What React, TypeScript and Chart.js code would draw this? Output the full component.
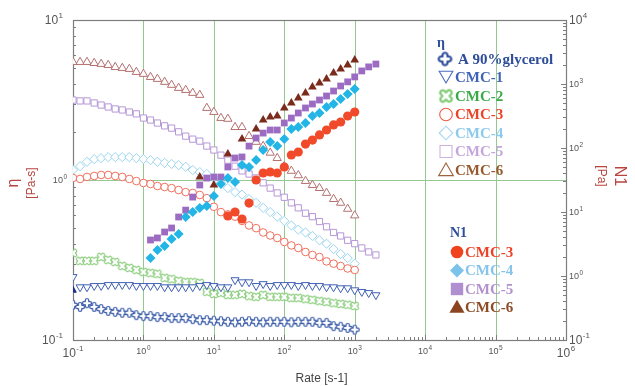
import React, { useEffect, useRef } from "react";
import { Chart, registerables } from "chart.js";

Chart.register(...registerables);

// Shear rate grid, 10 points per decade [s-1]
const rate = [
  0.1, 0.126, 0.158, 0.2, 0.251, 0.316, 0.398, 0.501, 0.631, 0.794,
  1, 1.26, 1.58, 2, 2.51, 3.16, 3.98, 5.01, 6.31, 7.94,
  10, 12.6, 15.8, 20, 25.1, 31.6, 39.8, 50.1, 63.1, 79.4,
  100, 126, 158, 200, 251, 316, 398, 501, 631, 794,
  1000, 1260, 1580, 2000,
];

// Viscosity eta [Pa-s]
const etaGlycerol = [
  0.166, 0.161, 0.17, 0.161, 0.156, 0.152, 0.15, 0.148, 0.148, 0.143,
  0.141, 0.141, 0.139, 0.139, 0.137, 0.137, 0.137, 0.135, 0.133, 0.133,
  0.132, 0.131, 0.13, 0.129, 0.13, 0.131, 0.13, 0.129, 0.13, 0.13,
  0.13, 0.129, 0.13, 0.13, 0.13, 0.128, 0.128, 0.122, 0.121, 0.119,
  0.116,
];
const etaCmc1 = [
  0.248, 0.214, 0.214, 0.218, 0.218, 0.221, 0.221, 0.221, 0.221, 0.218,
  0.218, 0.218, 0.218, 0.214, 0.214, 0.214, 0.214, 0.214, 0.218, 0.221,
  0.218, 0.214, 0.214, 0.237, 0.23, 0.23, 0.218, 0.224, 0.218, 0.221,
  0.221, 0.221, 0.218, 0.221, 0.218, 0.218, 0.214, 0.214, 0.211, 0.211,
  0.205, 0.2, 0.197, 0.191,
];
const etaCmc1First = [0.205];
const etaCmc2 = [
  0.35, 0.312, 0.312, 0.312, 0.33, 0.316, 0.307, 0.29, 0.282, 0.274,
  0.266, 0.262, 0.259, 0.244, 0.24, 0.234, 0.23, 0.23, 0.227, 0.2,
  0.194, 0.197, 0.191, 0.191, 0.194, 0.188, 0.186, 0.191, 0.186, 0.186,
  0.186, 0.183, 0.183, 0.18, 0.178, 0.175, 0.173, 0.17, 0.168, 0.166,
  0.163,
];
const etaCmc3 = [
  1.03, 1.015, 1.045, 1.06, 1.075, 1.075, 1.06, 1.045, 1.015, 0.985,
  0.958, 0.944, 0.917, 0.904, 0.89, 0.866, 0.84, 0.83, 0.806, 0.77,
  0.68, 0.63, 0.61, 0.59, 0.555, 0.52, 0.5, 0.47, 0.45, 0.434,
  0.41, 0.39, 0.376, 0.355, 0.34, 0.33, 0.31, 0.3, 0.29, 0.28,
  0.274,
];
const etaCmc4 = [
  1.155, 1.22, 1.3, 1.35, 1.37, 1.39, 1.39, 1.39, 1.39, 1.37,
  1.35, 1.33, 1.3, 1.28, 1.26, 1.24, 1.21, 1.155, 1.12, 1.09,
  1.03, 0.96, 0.89, 0.84, 0.81, 0.76, 0.72, 0.67, 0.63, 0.59,
  0.555, 0.52, 0.49, 0.47, 0.447, 0.42, 0.4, 0.37, 0.345, 0.325,
  0.3,
];
const etaCmc5 = [
  3.16, 3.12, 3.12, 3.03, 2.94, 2.86, 2.78, 2.74, 2.66, 2.59,
  2.44, 2.37, 2.27, 2.18, 2.11, 2.0, 1.88, 1.8, 1.75, 1.63,
  1.54, 1.43, 1.33, 1.22, 1.14, 1.09, 1.03, 0.96, 0.89, 0.83,
  0.78, 0.72, 0.67, 0.62, 0.59, 0.55, 0.51, 0.47, 0.447, 0.42,
  0.4, 0.376, 0.355, 0.34,
];
const etaCmc6 = [
  5.46, 5.46, 5.46, 5.38, 5.31, 5.23, 5.08, 5.01, 4.94, 4.73,
  4.6, 4.4, 4.28, 4.1, 3.93, 3.76, 3.65, 3.5, 3.4, 2.82,
  2.66, 2.44, 2.41, 2.14, 2.14, 1.88, 1.73, 1.63, 1.48, 1.37,
  1.22, 1.14, 1.07, 0.985, 0.93, 0.89, 0.83, 0.76, 0.72, 0.66,
  0.6,
];

// First normal stress difference N1 [Pa], aligned with rate (null = not measured)
const n1Cmc3 = [
  null, null, null, null, null, null, null, null, null, null,
  null, null, null, null, null, null, null, null, null, null,
  null, null, 8.66, 10.0, 7.77, 13.8, 31.6, 40.7, 42.2, 40.7,
  50.5, 77.7, 86.6, 115, 133, 160, 191, 229, 255, 316,
  365,
];
const n1Cmc4 = [
  null, null, null, null, null, null, null, null, null, null,
  null, 1.91, 2.55, 2.94, 3.79, 4.53, 8.35, 10, 11.5, 12.4,
  17.8, 27.4, 33.9, 29.4, 54.2, 50.5, 64.9, 93.1, 124, 107,
  138, 198, 213, 246, 316, 352, 437, 487, 583, 698,
  835,
];
const n1Cmc5 = [
  null, null, null, null, null, null, null, null, null, null,
  null, 3.65, 3.93, 4.87, 5.62, 8.35, 10.7, 17.1, 26.4, 33.9,
  35.2, 35.2, 50.5, 69.8, 72.4, 107, 143, 171, 191, 191,
  246, 294, 352, 422, 487, 562, 649, 777, 930, 1080,
  1290, 1600, 1850, 2050,
];
const n1Cmc6 = [
  null, null, null, null, null, null, null, null, null, null,
  null, null, null, null, null, null, null, null, 35.2, null,
  26.4, null, 80.6, null, 138, null, 198, 274, 305, 316,
  422, 505, 604, 723, 898, 1040, 1200, 1490, 1710, 1980,
  2370,
];

// Axis decades and their exponent labels
const xDecades = [0.1, 1, 10, 100, 1e3, 1e4, 1e5, 1e6];
const xTickExp = ["-1", "0", "1", "2", "3", "4", "5", "6"];
const etaDecades = [0.1, 1, 10];
const etaTickExp = ["-1", "0", "1"];
const n1Decades = [0.1, 1, 10, 100, 1e3, 1e4];
const n1TickExp = ["-1", "0", "1", "2", "3", "4"];

const xTitle = "Rate [s-1]";
const etaTitle = ["η", "[Pa-s]"];
const n1Title = ["N1", "[Pa]"];

const etaLegendTitle = "η";
const etaLegendLabels = ["A 90%glycerol", "CMC-1", "CMC-2", "CMC-3", "CMC-4", "CMC-5", "CMC-6"];
const n1LegendTitle = "N1";
const n1LegendLabels = ["CMC-3", "CMC-4", "CMC-5", "CMC-6"];

const GRID = "#93c98f";
const FRAME = "#7d7d7d";
const TICK_TEXT = "#555555";
const TITLE_RED = "#b8453f";
const SANS = "'Liberation Sans', Arial, sans-serif";
const SERIF = "'Liberation Serif', 'Times New Roman', serif";

type Pt = { x: number; y: number };
const points = (vals: (number | null)[]): Pt[] => {
  const out: Pt[] = [];
  vals.forEach((v, i) => {
    if (v != null) out.push({ x: rate[i], y: v });
  });
  return out;
};

// Outline of a plus with rounded arm ends (optionally turned into an X)
function crossPath(ctx: CanvasRenderingContext2D, a: number, b: number) {
  const P = Math.PI;
  ctx.beginPath();
  ctx.moveTo(-b, -b);
  ctx.lineTo(-b, -a + b);
  ctx.arc(0, -a + b, b, P, 0);
  ctx.lineTo(b, -b);
  ctx.lineTo(a - b, -b);
  ctx.arc(a - b, 0, b, -P / 2, P / 2);
  ctx.lineTo(b, b);
  ctx.lineTo(b, a - b);
  ctx.arc(0, a - b, b, 0, P);
  ctx.lineTo(-b, b);
  ctx.lineTo(-a + b, b);
  ctx.arc(-a + b, 0, b, P / 2, (3 * P) / 2);
  ctx.closePath();
}

function crossMarker(size: number, arm: number, color: string, lw: number, turned: boolean) {
  const c = document.createElement("canvas");
  const dim = Math.ceil(size + lw * 2 + 2);
  c.width = dim;
  c.height = dim;
  const g = c.getContext("2d")!;
  g.translate(dim / 2, dim / 2);
  if (turned) g.rotate(Math.PI / 4);
  crossPath(g, size / 2, arm / 2);
  g.fillStyle = "#ffffff";
  g.fill();
  g.lineWidth = lw;
  g.strokeStyle = color;
  g.lineJoin = "round";
  g.stroke();
  return c;
}

function drawShape(
  ctx: CanvasRenderingContext2D,
  kind: string,
  x: number,
  y: number,
  r: number,
  stroke: string,
  fill: string | null,
  lw: number
) {
  ctx.save();
  ctx.beginPath();
  if (kind === "circle") {
    ctx.arc(x, y, r, 0, Math.PI * 2);
  } else if (kind === "square") {
    ctx.rect(x - r, y - r, 2 * r, 2 * r);
  } else if (kind === "diamond") {
    ctx.moveTo(x, y - r);
    ctx.lineTo(x + r, y);
    ctx.lineTo(x, y + r);
    ctx.lineTo(x - r, y);
    ctx.closePath();
  } else if (kind === "triUp") {
    ctx.moveTo(x, y - r);
    ctx.lineTo(x + r * 1.05, y + r * 0.8);
    ctx.lineTo(x - r * 1.05, y + r * 0.8);
    ctx.closePath();
  } else if (kind === "triDown") {
    ctx.moveTo(x, y + r);
    ctx.lineTo(x + r * 1.05, y - r * 0.8);
    ctx.lineTo(x - r * 1.05, y - r * 0.8);
    ctx.closePath();
  }
  if (fill) {
    ctx.fillStyle = fill;
    ctx.fill();
  }
  if (lw > 0) {
    ctx.lineWidth = lw;
    ctx.strokeStyle = stroke;
    ctx.stroke();
  }
  ctx.restore();
}

// "10" with a raised exponent
function drawPow(
  ctx: CanvasRenderingContext2D,
  exp: string,
  x: number,
  y: number,
  align: "left" | "right" | "center",
  big: boolean
) {
  const bs = big ? 12 : 9;
  const es = big ? 8 : 6.5;
  ctx.save();
  ctx.fillStyle = TICK_TEXT;
  ctx.textBaseline = "middle";
  ctx.textAlign = "left";
  ctx.font = `${bs}px ${SANS}`;
  const wb = ctx.measureText("10").width;
  ctx.font = `${es}px ${SANS}`;
  const we = ctx.measureText(exp).width;
  const total = wb + we + 0.5;
  let sx = x;
  if (align === "right") sx = x - total;
  else if (align === "center") sx = x - total / 2;
  ctx.font = `${bs}px ${SANS}`;
  ctx.fillText("10", sx, y);
  ctx.font = `${es}px ${SANS}`;
  ctx.fillText(exp, sx + wb + 0.5, y - bs * 0.45);
  ctx.restore();
}

const frameAndGrid = {
  id: "frameAndGrid",
  beforeDraw(chart: any) {
    const { ctx, width, height } = chart;
    ctx.save();
    ctx.fillStyle = "#ffffff";
    ctx.fillRect(0, 0, width, height);
    ctx.restore();
  },
  beforeDatasetsDraw(chart: any) {
    const { ctx, chartArea: a, scales } = chart;
    const xs = scales.x;
    const yl = scales.yEta;
    const yr = scales.yN1;
    ctx.save();
    ctx.lineWidth = 1;
    ctx.strokeStyle = GRID;
    xDecades.slice(1, -1).forEach((v) => {
      const px = Math.round(xs.getPixelForValue(v)) + 0.5;
      ctx.beginPath();
      ctx.moveTo(px, a.top);
      ctx.lineTo(px, a.bottom);
      ctx.stroke();
    });
    const gy = Math.round(yl.getPixelForValue(1)) + 0.5;
    ctx.beginPath();
    ctx.moveTo(a.left, gy);
    ctx.lineTo(a.right, gy);
    ctx.stroke();

    // inward major / minor ticks
    ctx.strokeStyle = FRAME;
    const logTicks = (decades: number[], fn: (v: number, major: boolean) => void) => {
      decades.forEach((d, i) => {
        fn(d, true);
        if (i < decades.length - 1) for (let m = 2; m <= 9; m++) fn(d * m, false);
      });
    };
    logTicks(xDecades, (v, major) => {
      const px = Math.round(xs.getPixelForValue(v)) + 0.5;
      ctx.beginPath();
      ctx.moveTo(px, a.bottom);
      ctx.lineTo(px, a.bottom - (major ? 5 : 3));
      ctx.stroke();
    });
    logTicks(etaDecades, (v, major) => {
      const py = Math.round(yl.getPixelForValue(v)) + 0.5;
      ctx.beginPath();
      ctx.moveTo(a.left, py);
      ctx.lineTo(a.left + (major ? 5 : 3), py);
      ctx.stroke();
    });
    logTicks(n1Decades, (v, major) => {
      const py = Math.round(yr.getPixelForValue(v)) + 0.5;
      ctx.beginPath();
      ctx.moveTo(a.right, py);
      ctx.lineTo(a.right - (major ? 5 : 3), py);
      ctx.stroke();
    });

    // frame
    ctx.lineWidth = 1.2;
    ctx.strokeRect(Math.round(a.left) + 0.5, Math.round(a.top) + 0.5, Math.round(a.width), Math.round(a.height));
    ctx.restore();

    // tick labels
    xDecades.forEach((v, i) => {
      const big = i === 0 || i === xDecades.length - 1;
      drawPow(ctx, xTickExp[i], xs.getPixelForValue(v), a.bottom + (big ? 14 : 12), "center", big);
    });
    etaDecades.forEach((v, i) => {
      const big = i !== 1;
      drawPow(ctx, etaTickExp[i], a.left - (big ? 10 : 6), yl.getPixelForValue(v) + 1, "right", big);
    });
    n1Decades.forEach((v, i) => {
      const big = i === 0 || i === n1Decades.length - 1;
      drawPow(ctx, n1TickExp[i], a.right + 3, yr.getPixelForValue(v) + 1, "left", big);
    });
  },
  afterDraw(chart: any) {
    const { ctx, chartArea: a } = chart;
    ctx.save();
    // axis titles
    ctx.fillStyle = "#444444";
    ctx.font = `12px ${SANS}`;
    ctx.textAlign = "center";
    ctx.textBaseline = "middle";
    ctx.fillText(xTitle, (a.left + a.right) / 2 + 2, 379);

    ctx.fillStyle = TITLE_RED;
    ctx.save();
    ctx.translate(14, 183);
    ctx.rotate(-Math.PI / 2);
    ctx.font = `16px ${SANS}`;
    ctx.fillText(etaTitle[0], 0, 0);
    ctx.restore();
    ctx.save();
    ctx.translate(32, 183);
    ctx.rotate(-Math.PI / 2);
    ctx.font = `12px ${SANS}`;
    ctx.fillText(etaTitle[1], 0, 0);
    ctx.restore();

    ctx.save();
    ctx.translate(619, 176);
    ctx.rotate(Math.PI / 2);
    ctx.font = `16px ${SANS}`;
    ctx.fillText(n1Title[0], 0, 0);
    ctx.restore();
    ctx.save();
    ctx.translate(601, 176);
    ctx.rotate(Math.PI / 2);
    ctx.font = `12px ${SANS}`;
    ctx.fillText(n1Title[1], 0, 0);
    ctx.restore();

    // legends
    ctx.textAlign = "left";
    ctx.textBaseline = "middle";
    ctx.font = `bold 14px ${SERIF}`;
    ctx.fillStyle = "#2e4d9a";
    ctx.fillText(etaLegendTitle, 437, 43);

    const etaRows = [59, 77.5, 96, 114.5, 133, 151.5, 170];
    const etaText = ["#2e4d9a", "#4163b5", "#3aaa48", "#ec4328", "#8ccaec", "#c5a6dc", "#995a2e"];
    ctx.font = `bold 15px ${SERIF}`;
    etaRows.forEach((y, i) => {
      ctx.fillStyle = etaText[i];
      ctx.fillText(etaLegendLabels[i], i === 0 ? 458 : 455, y + 1);
    });
    ctx.drawImage(legGly, 445 - legGly.width / 2, etaRows[0] - legGly.height / 2);
    drawShape(ctx, "triDown", 446, etaRows[1] - 1, 6.5, "#4a6cc0", "#ffffff", 1.1);
    ctx.drawImage(legCmc2, 446 - legCmc2.width / 2, etaRows[2] - legCmc2.height / 2);
    drawShape(ctx, "circle", 446, etaRows[3], 6.3, "#ef5a45", "#ffffff", 1.1);
    drawShape(ctx, "diamond", 446, etaRows[4], 6.8, "#a6d6f0", "#ffffff", 1.1);
    drawShape(ctx, "square", 446, etaRows[5], 6, "#cdb4e0", "#ffffff", 1.1);
    drawShape(ctx, "triUp", 446, etaRows[6], 7, "#a0623e", "#ffffff", 1.1);

    ctx.font = `bold 14px ${SERIF}`;
    ctx.fillStyle = "#2e4d9a";
    ctx.fillText(n1LegendTitle, 450, 233);
    const n1Rows = [252, 270.5, 289, 307];
    const n1Text = ["#ec4328", "#86c4ea", "#b391cc", "#8d4b26"];
    ctx.font = `bold 15px ${SERIF}`;
    n1Rows.forEach((y, i) => {
      ctx.fillStyle = n1Text[i];
      ctx.fillText(n1LegendLabels[i], 465, y + 1);
    });
    drawShape(ctx, "circle", 457, n1Rows[0], 6.3, "#f0421e", "#f0421e", 0);
    drawShape(ctx, "diamond", 457, n1Rows[1], 7, "#7cc3ec", "#7cc3ec", 0);
    drawShape(ctx, "square", 457, n1Rows[2], 6.2, "#b08fd0", "#b08fd0", 0);
    drawShape(ctx, "triUp", 457, n1Rows[3], 7.2, "#8b4422", "#8b4422", 0);
    ctx.restore();
  },
};

let legGly: HTMLCanvasElement;
let legCmc2: HTMLCanvasElement;

export default function App() {
  const ref = useRef<HTMLCanvasElement>(null);

  useEffect(() => {
    const glyMark = crossMarker(9, 3.4, "#3457a6", 1.2, false);
    const cmc2Mark = crossMarker(9, 3.4, "#8fcf82", 1.2, true);
    legGly = crossMarker(12.5, 5, "#2e4d9a", 2.2, false);
    legCmc2 = crossMarker(14, 5, "#7fcb74", 2.2, true);

    const hollow = (label: string, data: Pt[], color: string, style: any, radius: number, rotation = 0) => ({
      label,
      data,
      yAxisID: "yEta",
      showLine: false,
      pointStyle: style,
      pointRadius: radius,
      pointRotation: rotation,
      borderColor: color,
      backgroundColor: "#ffffff",
      borderWidth: 1,
      order: 2,
    });
    const filled = (label: string, data: Pt[], color: string, style: any, radius: number, yAxisID = "yN1") => ({
      label,
      data,
      yAxisID,
      showLine: false,
      pointStyle: style,
      pointRadius: radius,
      borderColor: color,
      backgroundColor: color,
      borderWidth: 0,
      order: 1,
    });

    const chart = new Chart(ref.current!, {
      type: "scatter",
      data: {
        datasets: [
          hollow("A 90%glycerol", points(etaGlycerol), "#3457a6", glyMark, 4),
          hollow("CMC-1", points(etaCmc1), "#3f60b3", "triangle", 4.6, 180),
          filled("CMC-1 start", etaCmc1First.map((v) => ({ x: rate[0], y: v })), "#1d2f86", "triangle", 4.6, "yEta"),
          hollow("CMC-2", points(etaCmc2), "#8fcf82", cmc2Mark, 4),
          hollow("CMC-3", points(etaCmc3), "#f0705f", "circle", 3.8),
          hollow("CMC-4", points(etaCmc4), "#9dd6ef", "rectRot", 4.6),
          hollow("CMC-5", points(etaCmc5), "#b597d6", "rect", 4.4),
          hollow("CMC-6", points(etaCmc6), "#b57070", "triangle", 4.8),
          filled("N1 CMC-3", points(n1Cmc3), "#f04a2a", "circle", 4.6),
          filled("N1 CMC-4", points(n1Cmc4), "#22b5e6", "rectRot", 5),
          filled("N1 CMC-5", points(n1Cmc5), "#9b6cc2", "rect", 4.8),
          filled("N1 CMC-6", points(n1Cmc6), "#7b2b1c", "triangle", 5),
        ] as any,
      },
      options: {
        animation: false,
        responsive: false,
        events: [],
        layout: { padding: { top: 20, left: 0, right: 0, bottom: 0 } },
        plugins: { legend: { display: false }, tooltip: { enabled: false } },
        scales: {
          x: {
            type: "logarithmic",
            position: "bottom",
            min: 0.1,
            max: 1e6,
            ticks: { display: false },
            grid: { display: false },
            border: { display: false },
            afterFit: (s: any) => {
              s.height = 46;
            },
          },
          yEta: {
            type: "logarithmic",
            position: "left",
            min: 0.1,
            max: 10,
            ticks: { display: false },
            grid: { display: false },
            border: { display: false },
            afterFit: (s: any) => {
              s.width = 73;
            },
          },
          yN1: {
            type: "logarithmic",
            position: "right",
            min: 0.1,
            max: 1e4,
            ticks: { display: false },
            grid: { display: false },
            border: { display: false },
            afterFit: (s: any) => {
              s.width = 69;
            },
          },
        },
      } as any,
      plugins: [frameAndGrid],
    });
    return () => chart.destroy();
  }, []);

  return (
    <div style={{ position: "absolute", left: 0, top: 0, width: 635, height: 386, background: "#ffffff" }}>
      <canvas ref={ref} width={635} height={386} style={{ display: "block", width: 635, height: 386 }} />
    </div>
  );
}
